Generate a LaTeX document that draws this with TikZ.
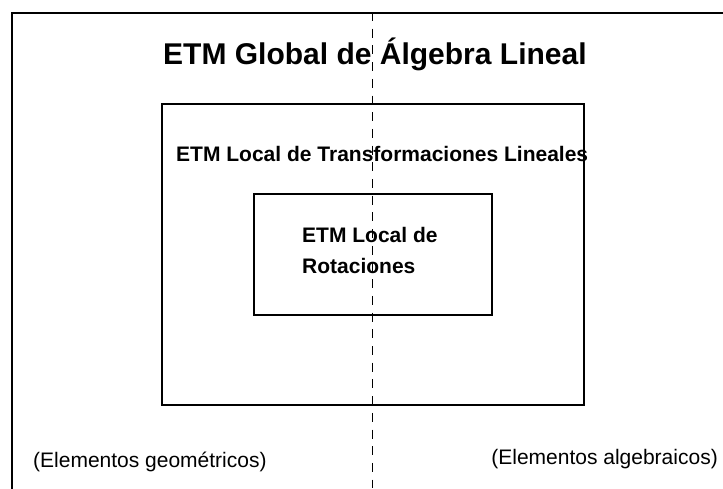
\documentclass[tikz,border=0pt]{standalone}
\usepackage{fontspec}
\setmainfont{Liberation Sans}
\usetikzlibrary{positioning}

\begin{document}
\begin{tikzpicture}[
    x=1pt,y=-1pt,
    box/.style={rectangle,draw=black,line width=1.5pt,anchor=north west,inner sep=0pt},
    divider/.style={draw=black,line width=1pt,dash pattern=on 9pt off 7.7pt},
    heading/.style={font=\fontsize{21}{31}\selectfont\bfseries,anchor=base west,inner sep=0pt,align=left},
    side/.style={font=\fontsize{21}{25}\selectfont,inner sep=0pt}
]
\useasboundingbox (0,0) rectangle (723,488);

% Global ETM frame (runs off the right and bottom edges)
\begin{scope}
\clip (0,0) rectangle (723,488);
\node[box,line width=2pt,minimum width=740pt,minimum height=500pt] (global) at (11,12) {};
\end{scope}
\node[font=\fontsize{30}{36}\selectfont\bfseries,anchor=base west,inner sep=0pt] (title) at (163,64) {ETM Global de Álgebra Lineal};

% Local ETM of linear transformations
\node[box,minimum width=422pt,minimum height=301pt] (local) at (161,103) {};
\node[heading] (localtitle) at (176,161) {ETM Local de Transformaciones Lineales};

% Local ETM of rotations
\node[box,minimum width=238pt,minimum height=121pt] (rot) at (253,193) {};
\node[heading] (rottitle) at (302,273) {ETM Local de\\Rotaciones};

% Dividing line between geometric and algebraic sides
\coordinate (divtop) at (372,12);
\coordinate (divbottom) at (372,488);
\draw[divider] (divtop) -- (divbottom);

% Side labels
\node[side,anchor=base west] (geo) at (33,467) {(Elementos geométricos)};
\node[side,anchor=base east] (alg) at (718,464) {(Elementos algebraicos)};

\end{tikzpicture}
\end{document}
